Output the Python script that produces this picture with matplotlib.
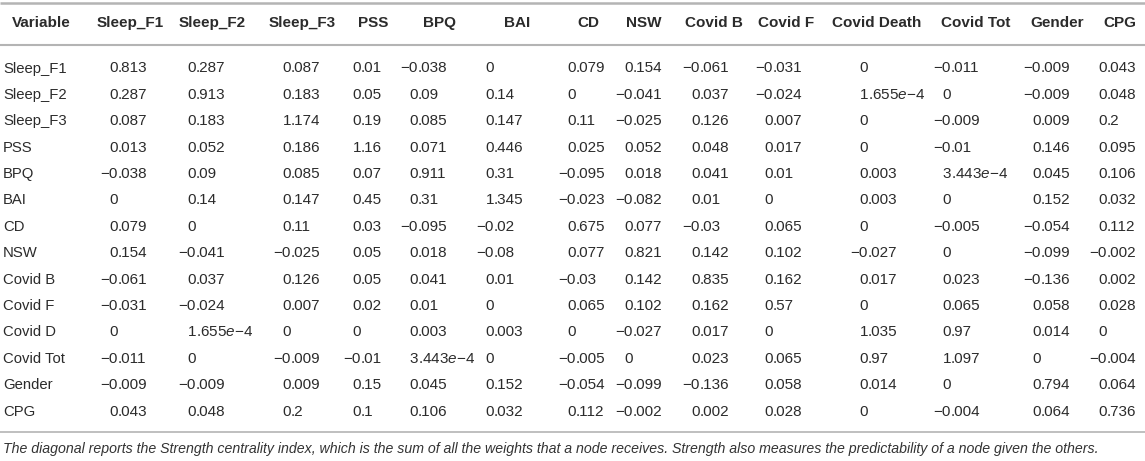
import matplotlib
matplotlib.use("Agg")
import matplotlib.pyplot as plt

plt.rcParams['font.family'] = ['Liberation Sans', 'DejaVu Sans']
plt.rcParams['mathtext.fontset'] = 'custom'
plt.rcParams['mathtext.it'] = 'Liberation Sans:italic'
plt.rcParams['mathtext.rm'] = 'Liberation Sans'

# ---- data ----
columns = ["Variable", "Sleep_F1", "Sleep_F2", "Sleep_F3", "PSS", "BPQ", "BAI", "CD", "NSW",
           "Covid B", "Covid F", "Covid Death", "Covid Tot", "Gender", "CPG"]
row_labels = ["Sleep_F1", "Sleep_F2", "Sleep_F3", "PSS", "BPQ", "BAI", "CD", "NSW",
              "Covid B", "Covid F", "Covid D", "Covid Tot", "Gender", "CPG"]

r_sleep_f1 = ["0.813", "0.287", "0.087", "0.01", "−0.038", "0", "0.079", "0.154", "−0.061", "−0.031", "0", "−0.011", "−0.009", "0.043"]
r_sleep_f2 = ["0.287", "0.913", "0.183", "0.05", "0.09", "0.14", "0", "−0.041", "0.037", "−0.024", "1.655e−4", "0", "−0.009", "0.048"]
r_sleep_f3 = ["0.087", "0.183", "1.174", "0.19", "0.085", "0.147", "0.11", "−0.025", "0.126", "0.007", "0", "−0.009", "0.009", "0.2"]
r_pss      = ["0.013", "0.052", "0.186", "1.16", "0.071", "0.446", "0.025", "0.052", "0.048", "0.017", "0", "−0.01", "0.146", "0.095"]
r_bpq      = ["−0.038", "0.09", "0.085", "0.07", "0.911", "0.31", "−0.095", "0.018", "0.041", "0.01", "0.003", "3.443e−4", "0.045", "0.106"]
r_bai      = ["0", "0.14", "0.147", "0.45", "0.31", "1.345", "−0.023", "−0.082", "0.01", "0", "0.003", "0", "0.152", "0.032"]
r_cd       = ["0.079", "0", "0.11", "0.03", "−0.095", "−0.02", "0.675", "0.077", "−0.03", "0.065", "0", "−0.005", "−0.054", "0.112"]
r_nsw      = ["0.154", "−0.041", "−0.025", "0.05", "0.018", "−0.08", "0.077", "0.821", "0.142", "0.102", "−0.027", "0", "−0.099", "−0.002"]
r_covid_b  = ["−0.061", "0.037", "0.126", "0.05", "0.041", "0.01", "−0.03", "0.142", "0.835", "0.162", "0.017", "0.023", "−0.136", "0.002"]
r_covid_f  = ["−0.031", "−0.024", "0.007", "0.02", "0.01", "0", "0.065", "0.102", "0.162", "0.57", "0", "0.065", "0.058", "0.028"]
r_covid_d  = ["0", "1.655e−4", "0", "0", "0.003", "0.003", "0", "−0.027", "0.017", "0", "1.035", "0.97", "0.014", "0"]
r_covid_t  = ["−0.011", "0", "−0.009", "−0.01", "3.443e−4", "0", "−0.005", "0", "0.023", "0.065", "0.97", "1.097", "0", "−0.004"]
r_gender   = ["−0.009", "−0.009", "0.009", "0.15", "0.045", "0.152", "−0.054", "−0.099", "−0.136", "0.058", "0.014", "0", "0.794", "0.064"]
r_cpg      = ["0.043", "0.048", "0.2", "0.1", "0.106", "0.032", "0.112", "−0.002", "0.002", "0.028", "0", "−0.004", "0.064", "0.736"]

table_rows = [r_sleep_f1, r_sleep_f2, r_sleep_f3, r_pss, r_bpq, r_bai, r_cd, r_nsw,
              r_covid_b, r_covid_f, r_covid_d, r_covid_t, r_gender, r_cpg]

footnote = ("The diagonal reports the Strength centrality index, which is the sum of all the weights that a node "
            "receives. Strength also measures the predictability of a node given the others.")

# ---- layout ----
W, H = 1145, 461
fig = plt.figure(figsize=(W / 100, H / 100), dpi=100)
ax = fig.add_axes([0, 0, 1, 1])
ax.set_xlim(0, W)
ax.set_ylim(H, 0)
ax.axis('off')

txt = '#2b2b2b'
rule = '#b4b4b4'
fs = 11

header_x = [12, 130, 212, 302, 373, 439, 517, 588, 644, 714, 786, 877, 976, 1057, 1120]
anchor_x = [118, 196, 291, 361, 418, 494, 576, 633, 700, 773, 868, 951, 1041, 1107]
header_y = 23
row_y0, row_y1 = 68.5, 411.5

ax.plot([0, W], [3.5, 3.5], color=rule, lw=1.8, solid_capstyle='butt')
ax.plot([0, W], [45, 45], color=rule, lw=1.5, solid_capstyle='butt')
ax.plot([0, W], [432, 432], color=rule, lw=1.2, solid_capstyle='butt')

for i, name in enumerate(columns):
    ax.text(header_x[i], header_y, name, ha='left' if i == 0 else 'center', va='center',
            fontsize=fs, fontweight='bold', color=txt)


def fmt(s):
    return s.replace('e', r'$\mathit{e}$')


n = len(table_rows)
for r, (lab, vals) in enumerate(zip(row_labels, table_rows)):
    y = row_y0 + (row_y1 - row_y0) * r / (n - 1)
    ax.text(3, y, lab, ha='left', va='center', fontsize=10.7, color=txt)
    for c, v in enumerate(vals):
        if '.' in v:
            ip, fp = v.split('.', 1)
            fp = '.' + fp
        else:
            ip, fp = v, ''
        ax.text(anchor_x[c], y, ip, ha='right', va='center', fontsize=fs, color=txt)
        if fp:
            ax.text(anchor_x[c], y, fmt(fp), ha='left', va='center', fontsize=fs, color=txt)

ax.text(3, 449, footnote, ha='left', va='center', fontsize=10.2, style='italic', color='#333333')

fig.savefig('out.png', dpi=100)
